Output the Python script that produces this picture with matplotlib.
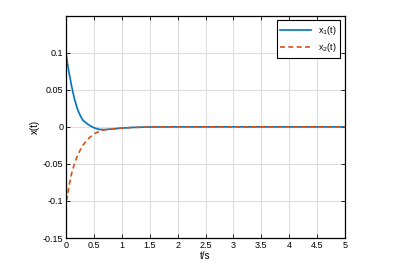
import numpy as np
import matplotlib.pyplot as plt

plt.rcParams['font.family'] = ['Liberation Sans', 'DejaVu Sans']

t = [0, 0.025, 0.05, 0.1, 0.15, 0.2, 0.25, 0.3, 0.4, 0.5, 0.6, 0.7, 0.8, 1.0, 1.2, 1.5, 2.0, 3.0, 4.0, 5.0]
x1 = [0.1, 0.086, 0.075, 0.055, 0.038, 0.025, 0.016, 0.009, 0.003, -0.0013, -0.0035, -0.0038,
      -0.003, -0.0017, -0.0008, -0.0002, 0, 0, 0, 0]
x2 = [-0.1, -0.094, -0.081, -0.063, -0.050, -0.040, -0.032, -0.025, -0.016, -0.0095, -0.006, -0.0038,
      -0.003, -0.0017, -0.0008, -0.0002, 0, 0, 0, 0]
xticks = [0, 0.5, 1, 1.5, 2, 2.5, 3, 3.5, 4, 4.5, 5]
yticks = [-0.15, -0.1, -0.05, 0, 0.05, 0.1]

fig = plt.figure(figsize=(4.11, 2.69), dpi=100)
ax = fig.add_axes([0.1606, 0.115, 0.6788, 0.827])

ax.plot(t, x1, color='#0072BD', lw=1.2, label='x$_1$(t)')
ax.plot(t, x2, color='#D95319', lw=1.2, ls='--', dashes=(3, 2), label='x$_2$(t)')

ax.set_xlim(0, 5)
ax.set_ylim(-0.15, 0.15)
ax.set_xticks(xticks)
ax.set_xticklabels([f'{v:g}' for v in xticks])
ax.set_yticks(yticks)
ax.set_yticklabels([f'{v:g}' for v in yticks])
ax.grid(True, color='#dedede', lw=0.8)
ax.set_axisbelow(True)
ax.tick_params(direction='in', top=True, right=True, labelsize=6.5, length=3, width=0.6, pad=2)
for s in ax.spines.values():
    s.set_linewidth(0.9)
ax.set_xlabel('t/s', fontsize=7, labelpad=1)
ax.set_ylabel('x(t)', fontsize=7, labelpad=2)

leg = ax.legend(loc='upper right', fontsize=6.5, fancybox=False, edgecolor='black',
                framealpha=1, handlelength=3.4, borderpad=0.4, labelspacing=0.5,
                borderaxespad=0.5)
leg.get_frame().set_linewidth(0.8)

fig.savefig('out.png', dpi=100)
